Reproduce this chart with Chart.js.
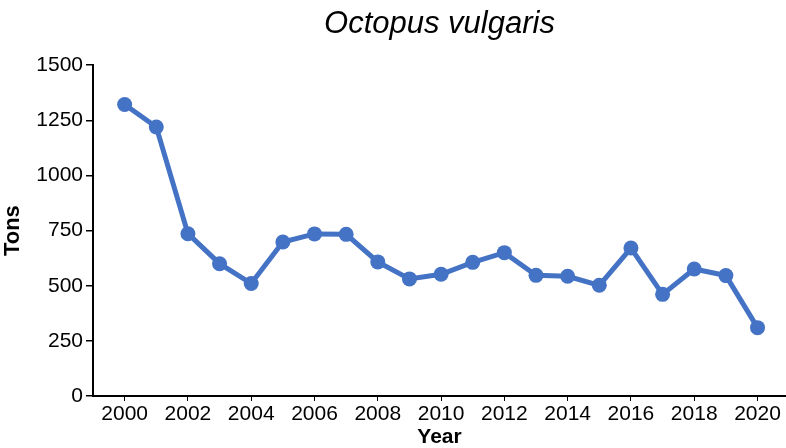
<!DOCTYPE html>
<html>
<head>
<meta charset="utf-8">
<script src="https://cdn.jsdelivr.net/npm/chart.js@4/dist/chart.umd.min.js"></script>
<style>
html,body{margin:0;padding:0;background:#fff;}
#wrap{width:786px;height:448px;position:relative;}
</style>
</head>
<body>
<div id="wrap"><canvas id="c" width="786" height="448"></canvas></div>
<script>
const years = [2000,2001,2002,2003,2004,2005,2006,2007,2008,2009,2010,2011,2012,2013,2014,2015,2016,2017,2018,2019,2020];
const tons = [1322,1220,736,600,510,698,735,733,608,531,552,606,650,547,543,502,671,461,576,546,310];
const yTicks = [0,250,500,750,1000,1250,1500];
const xTicks = [2000,2002,2004,2006,2008,2010,2012,2014,2016,2018,2020];

const blue = '#4472C4';
new Chart(document.getElementById('c'), {
  type: 'line',
  data: {
    datasets: [{
      data: years.map((y,i)=>({x:y, y:tons[i]})),
      borderColor: blue,
      backgroundColor: blue,
      borderWidth: 5,
      pointRadius: 7.5,
      pointHoverRadius: 7.5,
      pointBackgroundColor: blue,
      pointBorderWidth: 0,
      tension: 0,
      clip: false
    }]
  },
  options: {
    responsive: false,
    animation: false,
    layout: {autoPadding: false, padding: {left: 0, right: 0, top: 0, bottom: 0}},
    plugins: {
      legend: {display: false},
      tooltip: {enabled: false},
      title: {
        display: true,
        fullSize: false,
        text: 'Octopus vulgaris',
        color: '#000',
        font: {family: 'Liberation Sans, Arial, sans-serif', size: 31, style: 'italic', weight: 'normal', lineHeight: 1.2},
        padding: {top: 6, bottom: 22}
      }
    },
    scales: {
      x: {
        type: 'linear',
        min: 1999,
        max: 2020.9,
        afterBuildTicks: (s) => { s.ticks = xTicks.map(v=>({value:v})); },
        afterFit: (s) => { s.height = 52; },
        ticks: {
          color: '#000',
          font: {family: 'Liberation Sans, Arial, sans-serif', size: 21},
          padding: 1,
          maxRotation: 0,
          autoSkip: false,
          callback: (v) => String(v)
        },
        grid: {drawOnChartArea: false, drawTicks: true, tickLength: 5, color: '#000', lineWidth: 1},
        border: {display: true, color: '#000', width: 2},
        title: {
          display: true,
          text: 'Year',
          color: '#000',
          font: {family: 'Liberation Sans, Arial, sans-serif', size: 21, weight: 'bold', lineHeight: 1.0},
          padding: {top: 0, bottom: 0}
        }
      },
      y: {
        min: 0,
        max: 1500,
        afterBuildTicks: (s) => { s.ticks = yTicks.map(v=>({value:v})); },
        afterFit: (s) => { s.width = 93; },
        ticks: {
          color: '#000',
          font: {family: 'Liberation Sans, Arial, sans-serif', size: 21},
          padding: 3,
          callback: (v) => String(v)
        },
        grid: {drawOnChartArea: false, drawTicks: true, tickLength: 7, color: '#000', lineWidth: 1.5},
        border: {display: true, color: '#000', width: 2},
        title: {
          display: true,
          text: 'Tons',
          color: '#000',
          font: {family: 'Liberation Sans, Arial, sans-serif', size: 22, weight: 'bold'},
          padding: {top: 0, bottom: 0}
        }
      }
    }
  }
});
</script>
</body>
</html>
